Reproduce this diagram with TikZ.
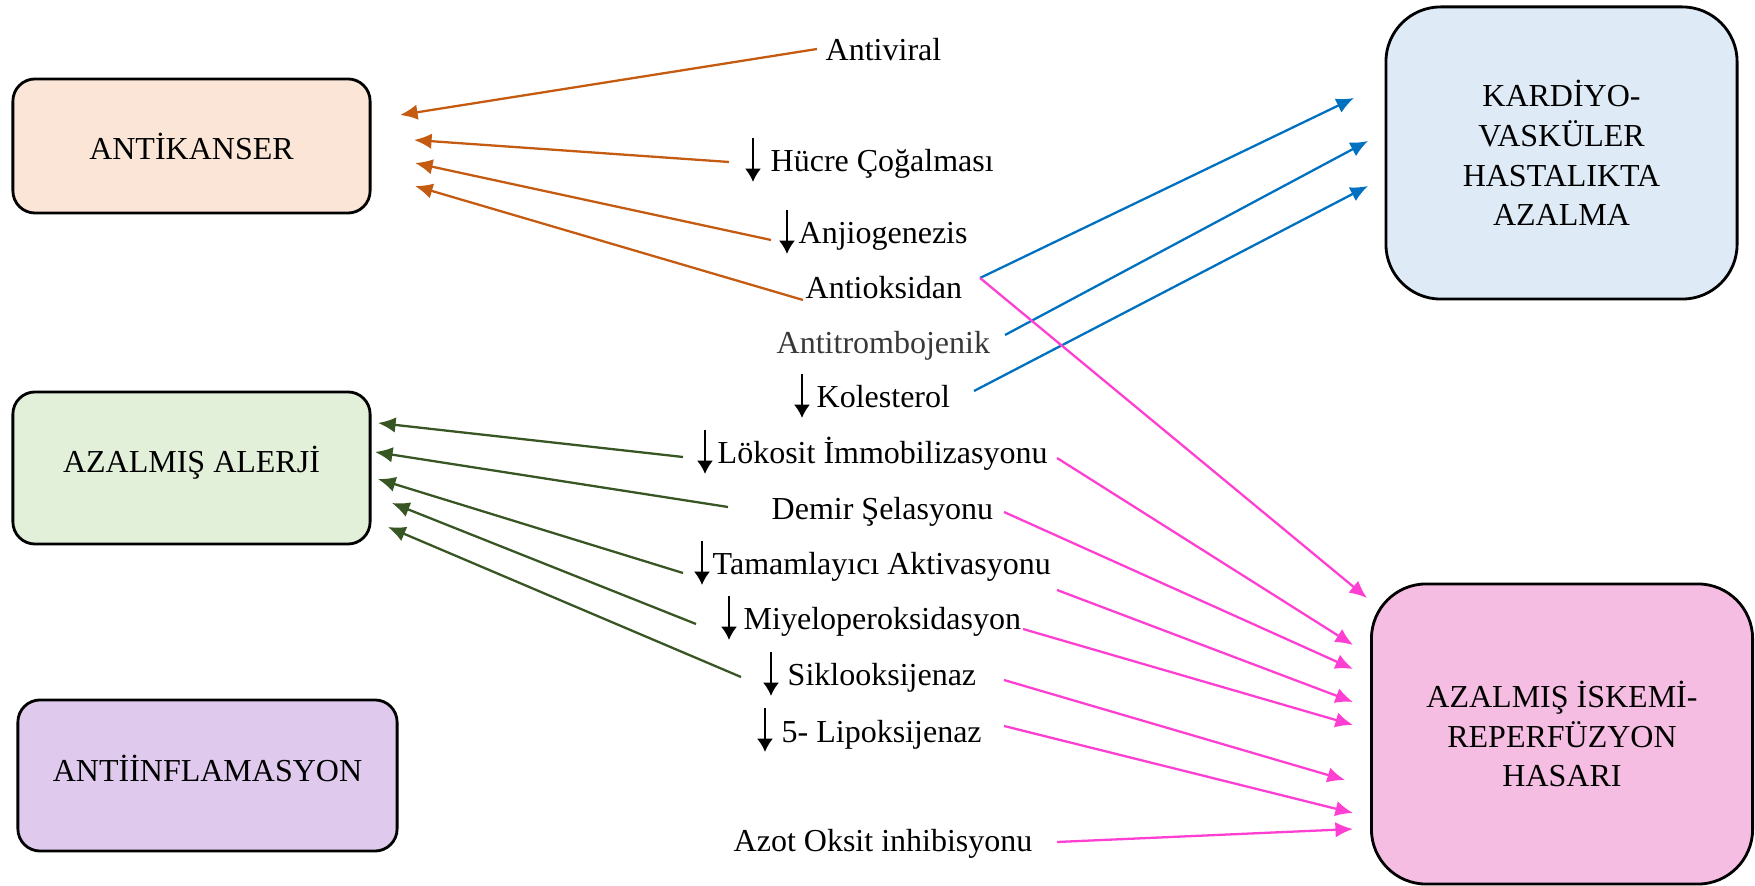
\documentclass[tikz,border=0pt]{standalone}
\usepackage{fontspec}
\setmainfont{Liberation Serif}
\usetikzlibrary{positioning, calc, arrows.meta}
\definecolor{kanserfill}{HTML}{FBE5D6}
\definecolor{kardiyofill}{HTML}{DEEBF7}
\definecolor{alerjifill}{HTML}{E2F0D9}
\definecolor{inflamfill}{HTML}{DFC9ED}
\definecolor{iskemifill}{HTML}{F6BDE2}
\definecolor{turuncu}{HTML}{C55A11}
\definecolor{mavi}{HTML}{0070C0}
\definecolor{yesil}{HTML}{375623}
\definecolor{pembe}{HTML}{FF3FD2}

\begin{document}
\begin{tikzpicture}[x=0.01cm, y=-0.01cm, >={Latex[length=5pt,width=4.4pt]},
  font=\fontsize{9.1}{11.3}\selectfont,
  kutu/.style={draw, line width=0.8pt, align=center, inner sep=0pt},
  etiket/.style={anchor=base west, inner sep=0pt},
  ok/.style={->, line width=0.65pt},
  dnok/.style={-{Latex[length=3.8pt,width=4.6pt]}, line width=0.6pt}]

\useasboundingbox (0,0) rectangle (1755,886);

\node[kutu, fill=kanserfill, rounded corners=6.3pt, minimum width=3.57cm, minimum height=1.34cm] (kanser) at (191.5,146) {ANTİKANSER};
\node[kutu, fill=kardiyofill, rounded corners=15.6pt, minimum width=3.51cm, minimum height=2.92cm] (kardiyo) at (1561.5,153) {KARDİYO-\\VASKÜLER\\HASTALIKTA\\AZALMA};
\node[kutu, fill=alerjifill, rounded corners=6.3pt, minimum width=3.57cm, minimum height=1.52cm] (alerji) at (191.5,468) {\raisebox{0.18cm}{AZALMIŞ ALERJİ}};
\node[kutu, fill=inflamfill, rounded corners=6.3pt, minimum width=3.79cm, minimum height=1.51cm] (inflam) at (207.5,775.5) {\raisebox{0.15cm}{ANTİİNFLAMASYON}};
\node[kutu, fill=iskemifill, rounded corners=15.6pt, minimum width=3.81cm, minimum height=3cm] (iskemi) at (1562,734) {AZALMIŞ İSKEMİ-\\REPERFÜZYON\\HASARI};

\node[etiket] (antiviral) at (825,61) {Antiviral};
\node[etiket] (hucre) at (770,172) {Hücre Çoğalması};
\node[etiket] (anjio) at (798,244) {Anjiogenezis};
\node[etiket] (antioks) at (805,299) {Antioksidan};
\node[etiket, text=black!78] (antitromb) at (776,354) {Antitrombojenik};
\node[etiket] (kolest) at (816,408) {Kolesterol};
\node[etiket] (lokosit) at (717,464) {Lökosit İmmobilizasyonu};
\node[etiket] (demir) at (771,520) {Demir Şelasyonu};
\node[etiket] (tamam) at (712,575) {Tamamlayıcı Aktivasyonu};
\node[etiket] (miyelo) at (743,630) {Miyeloperoksidasyon};
\node[etiket] (siklo) at (787,686) {Siklooksijenaz};
\node[etiket] (lipo) at (781,742) {5- Lipoksijenaz};
\node[etiket] (azot) at (733,851) {Azot Oksit inhibisyonu};

\foreach \n/\d in {hucre/17, anjio/11, kolest/14, lokosit/12, tamam/10, miyelo/14, siklo/16, lipo/16}
  \draw[dnok] ($(\n.base west)+(-\d,-34)$) -- ++(0,44);

% uclar
\coordinate (o1s) at (817,49);   \coordinate (o1e) at (400,115);
\coordinate (o2s) at (729,162);  \coordinate (o2e) at (414,140);
\coordinate (o3s) at (771,240);  \coordinate (o3e) at (415,163);
\coordinate (o4s) at (803,300);  \coordinate (o4e) at (415,186);

\coordinate (b1s) at (980,278);  \coordinate (b1e) at (1354,98);
\coordinate (b2s) at (1005,335); \coordinate (b2e) at (1368,141);
\coordinate (b3s) at (974,391);  \coordinate (b3e) at (1368,186);

\coordinate (p2s) at (1057,458); \coordinate (p1e) at (1367,598);
\coordinate (p3s) at (1004,512); \coordinate (p2e) at (1353,645);
\coordinate (p4s) at (1057,590); \coordinate (p3e) at (1353,669);
\coordinate (p5s) at (1023,629); \coordinate (p4e) at (1353,702);
\coordinate (p6s) at (1004,680); \coordinate (p5e) at (1353,725);
\coordinate (p7s) at (1004,726); \coordinate (p6e) at (1345,780);
\coordinate (p8s) at (1057,842); \coordinate (p7e) at (1353,813);
                                 \coordinate (p8e) at (1353,829);

\coordinate (g1s) at (683,457);  \coordinate (g1e) at (378,423);
\coordinate (g2s) at (728,507);  \coordinate (g2e) at (375,452);
\coordinate (g3s) at (683,573);  \coordinate (g3e) at (378,479);
\coordinate (g4s) at (696,624);  \coordinate (g4e) at (392,503);
\coordinate (g5s) at (741,677);  \coordinate (g5e) at (388,527);

\foreach \i in {1,...,4} \draw[ok, turuncu] (o\i s) -- (o\i e);
\foreach \i in {1,...,3} \draw[ok, mavi] (b\i s) -- (b\i e);
\draw[ok, pembe] (b1s) -- (p1e);
\foreach \i in {2,...,8} \draw[ok, pembe] (p\i s) -- (p\i e);
\foreach \i in {1,...,5} \draw[ok, yesil] (g\i s) -- (g\i e);

\end{tikzpicture}
\end{document}
